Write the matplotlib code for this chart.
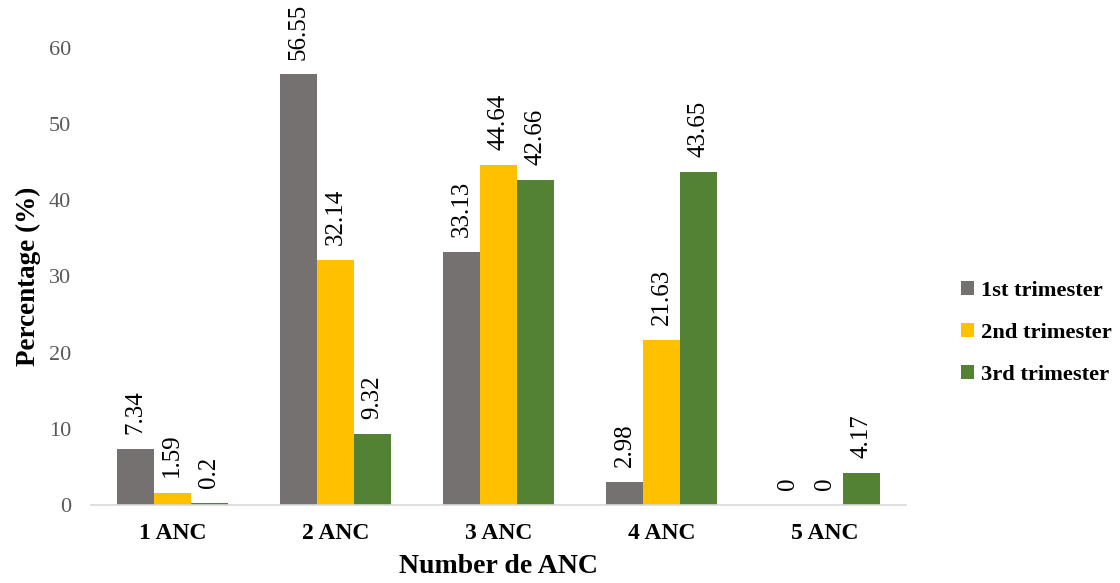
import matplotlib
matplotlib.use("Agg")
import matplotlib.pyplot as plt
import numpy as np

plt.rcParams['font.family'] = ['Liberation Serif', 'DejaVu Serif']

categories = ['1 ANC', '2 ANC', '3 ANC', '4 ANC', '5 ANC']
first_tri = [7.34, 56.55, 33.13, 2.98, 0]
second_tri = [1.59, 32.14, 44.64, 21.63, 0]
third_tri = [0.2, 9.32, 42.66, 43.65, 4.17]
series_names = ['1st trimester', '2nd trimester', '3rd trimester']
colors = ['#767171', '#FFC000', '#548235']

fig = plt.figure(figsize=(11.2, 5.83), dpi=100)
ax = fig.add_axes([0.081, 0.134, 0.728, 0.784])

x = np.arange(len(categories))
w = 0.227
labels = []
for i, (vals, name, c) in enumerate(zip([first_tri, second_tri, third_tri], series_names, colors)):
    pos = x + (i - 1) * w
    bars = ax.bar(pos, vals, w, color=c, label=name, zorder=2)
    for b, v in zip(bars, vals):
        t = ax.annotate(f"{v:g}", (b.get_x() + b.get_width() / 2, v),
                        xytext=(0, 11), textcoords='offset points',
                        rotation=90, ha='center', va='bottom', fontsize=18,
                        color='black', annotation_clip=False)
        labels.append(t)

ax.set_xlim(-0.5, 4.5)
ax.set_ylim(0, 60)
ax.set_yticks(range(0, 61, 10))
ax.set_xticks(x)
ax.set_xticklabels(categories, fontsize=17, fontweight='bold')
ax.tick_params(axis='y', labelsize=16, labelcolor='#595959', length=0, pad=14)
ax.tick_params(axis='x', length=0, pad=13)

for s in ['top', 'right', 'left']:
    ax.spines[s].set_visible(False)
ax.spines['bottom'].set_color('#D9D9D9')
ax.spines['bottom'].set_linewidth(1.2)

ax.set_ylabel('Percentage (%)', fontsize=19.5, fontweight='bold', labelpad=6)
ax.set_xlabel('Number de ANC', fontsize=20, fontweight='bold', labelpad=7)

ax.legend(loc='center left', bbox_to_anchor=(1.042, 0.376), frameon=False,
          prop={'size': 16.2, 'weight': 'bold'}, handlelength=0.6,
          handleheight=0.6, handletextpad=0.3, labelspacing=0.98)

# keep value labels inside the figure: pull down any that run off the top
fig.canvas.draw()
renderer = fig.canvas.get_renderer()
for t in labels:
    bb = t.get_window_extent(renderer)
    over = bb.y1 - (fig.bbox.height - 4)
    if over > 0:
        ox, oy = t.xyann
        t.xyann = (ox, oy - over * 72 / fig.dpi)

fig.savefig('out.png', dpi=100)
